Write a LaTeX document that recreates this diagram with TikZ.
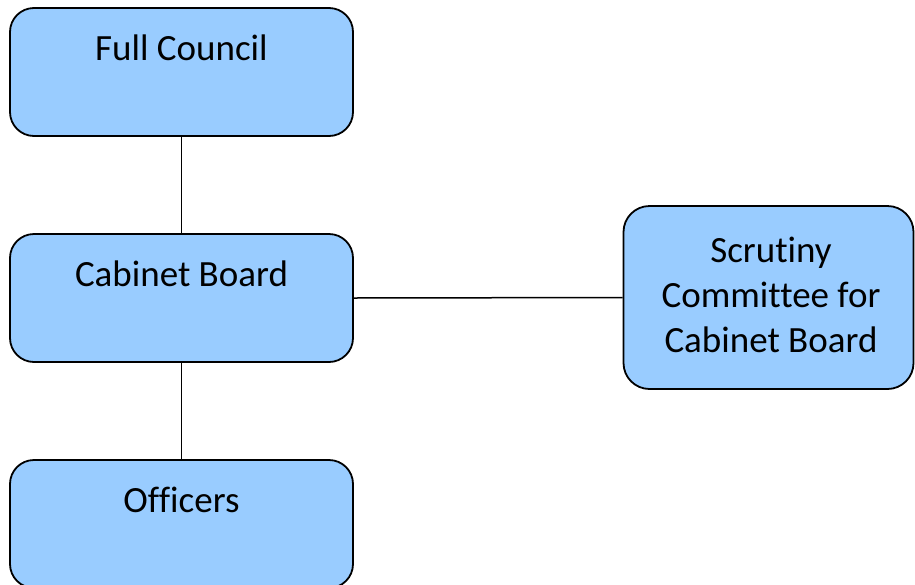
\documentclass[tikz,border=0pt]{standalone}
\usepackage{fontspec}
\setmainfont[Ligatures={NoCommon}]{Carlito}
\definecolor{boxblue}{HTML}{99CCFF}
\begin{document}
\begin{tikzpicture}[x=1pt,y=-1pt,
  orgbox/.style={draw=black,line width=1.8pt,fill=boxblue,rounded corners=24pt,minimum width=343pt,minimum height=128pt,inner sep=0pt},
  scrbox/.style={draw=black,line width=1.8pt,fill=boxblue,rounded corners=26pt,minimum width=290pt,minimum height=183pt,inner sep=0pt},
  boxtext/.style={anchor=base,inner sep=0pt,font=\fontsize{37}{45}\selectfont},
  link/.style={draw=black,line width=1.5pt}]
\useasboundingbox (0,0) rectangle (915,584);
\clip (0,0) rectangle (915,584);
\node[orgbox] (full) at (181.5,72) {};
\node[orgbox] (cab) at (181.5,298) {};
\node[orgbox] (off) at (181.5,524) {};
\node[scrbox] (scr) at (768.5,297.5) {};
\node[boxtext,align=center,anchor=center] (scrt) at (771,294.5) {Scrutiny\\Committee for\\Cabinet Board};
\node[boxtext] (fullt) at (181.5,60) {Full Council};
\node[boxtext] (cabt) at (181.5,286) {Cabinet Board};
\node[boxtext] (offt) at (181.5,512) {Officers};
\draw[link] (full.south) -- (cab.north);
\draw[link] (cab.south) -- (off.north);
\draw[link] (cab.east) -- (scr.west);
\end{tikzpicture}
\end{document}
